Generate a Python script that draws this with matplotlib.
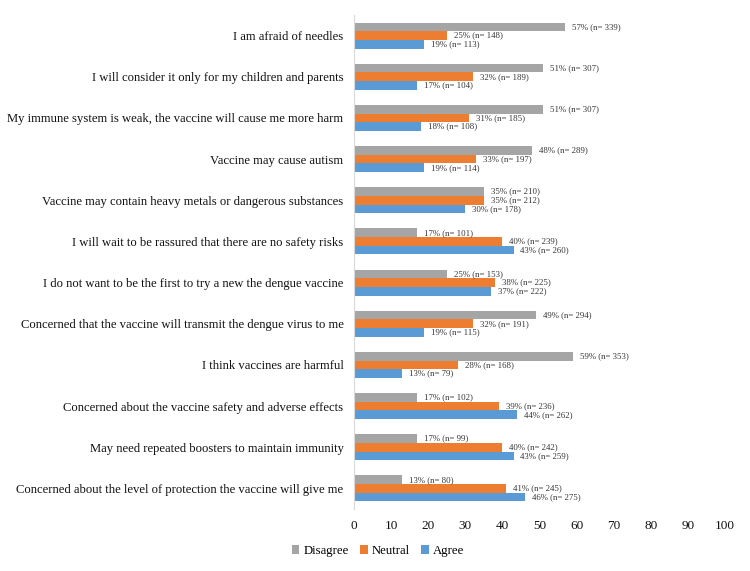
import matplotlib
matplotlib.use("Agg")
import matplotlib.pyplot as plt
import numpy as np

categories = [
    "I am afraid of needles",
    "I will consider it only for my children and parents",
    "My immune system is weak, the vaccine will cause me more harm",
    "Vaccine may cause autism",
    "Vaccine may contain heavy metals or dangerous substances",
    "I will wait to be rassured that there are no safety risks",
    "I do not want to be the first to try a new the dengue vaccine",
    "Concerned that the vaccine will transmit the dengue virus to me",
    "I think vaccines are harmful",
    "Concerned about the vaccine safety and adverse effects",
    "May need repeated boosters to maintain immunity",
    "Concerned about the level of protection the vaccine will give me",
]
disagree_pct = [57, 51, 51, 48, 35, 17, 25, 49, 59, 17, 17, 13]
disagree_n = [339, 307, 307, 289, 210, 101, 153, 294, 353, 102, 99, 80]
neutral_pct = [25, 32, 31, 33, 35, 40, 38, 32, 28, 39, 40, 41]
neutral_n = [148, 189, 185, 197, 212, 239, 225, 191, 168, 236, 242, 245]
agree_pct = [19, 17, 18, 19, 30, 43, 37, 19, 13, 44, 43, 46]
agree_n = [113, 104, 108, 114, 178, 260, 222, 115, 79, 262, 259, 275]
xticks = [0, 10, 20, 30, 40, 50, 60, 70, 80, 90, 100]

plt.rcParams['font.family'] = ['Liberation Serif', 'DejaVu Serif']

fig = plt.figure(figsize=(7.5, 5.71), dpi=100)
ax = fig.add_axes([354/750, 1-509/571, (725-354)/750, (509-15)/571])

y = np.arange(len(categories))
h = 0.21
series = [
    ("Disagree", disagree_pct, disagree_n, "#A5A5A5", -h),
    ("Neutral", neutral_pct, neutral_n, "#ED7D31", 0),
    ("Agree", agree_pct, agree_n, "#5B9BD5", h),
]
for name, pct, ns, col, off in series:
    bars = ax.barh(y + off, pct, height=h, color=col, label=name)
    for b, p, n in zip(bars, pct, ns):
        ax.annotate(f"{p}% (n= {n})", (b.get_width(), b.get_y() + b.get_height()/2),
                    xytext=(5, 0), textcoords="offset points", va="center", ha="left",
                    fontsize=6.3, color="#333333")

ax.set_yticks(y)
ax.set_yticklabels(categories, fontsize=9.05, color="#111111")
ax.set_ylim(len(categories) - 0.5, -0.5)
ax.set_xlim(0, 100)
ax.set_xticks(xticks)
ax.set_xticklabels([str(t) for t in xticks], fontsize=9.5, color="#111111")
ax.tick_params(axis='x', length=0, pad=8)
ax.tick_params(axis='y', length=0, pad=7.5)
for s in ["top", "right", "bottom"]:
    ax.spines[s].set_visible(False)
ax.spines["left"].set_color("#D9D9D9")

leg = fig.legend(loc="center", bbox_to_anchor=(378/750, 1-551/571), ncol=3, frameon=False,
                 fontsize=9.2, handlelength=0.6, handleheight=0.6, handletextpad=0.3,
                 columnspacing=0.9)

fig.savefig("out.png", dpi=100)
